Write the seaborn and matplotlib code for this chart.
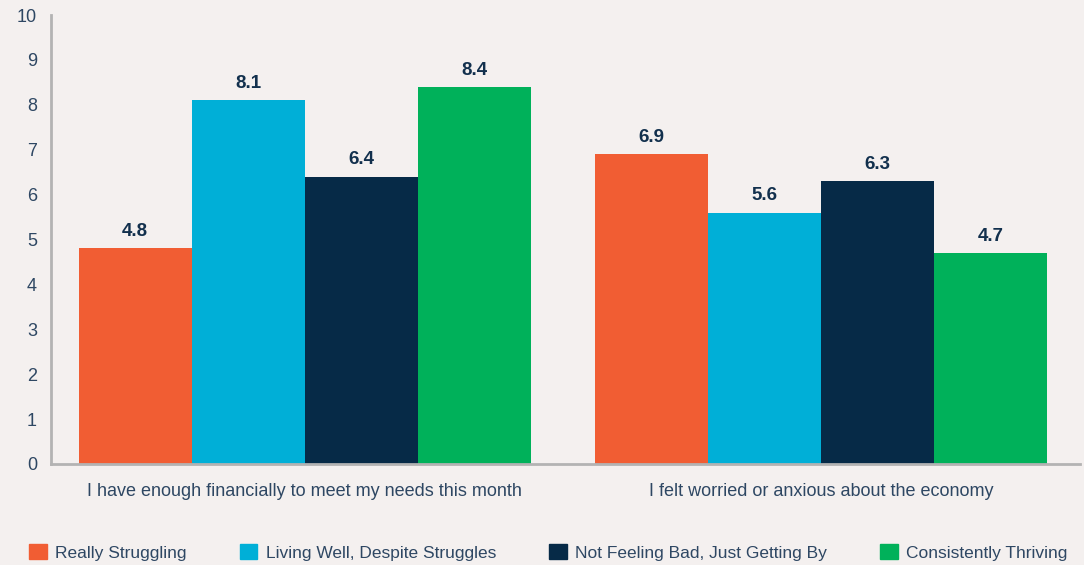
import numpy as np
import pandas as pd
import seaborn as sns
import matplotlib.pyplot as plt

statements = ["I have enough financially to meet my needs this month",
              "I felt worried or anxious about the economy"]
groups = ["Really Struggling", "Living Well, Despite Struggles",
          "Not Feeling Bad, Just Getting By", "Consistently Thriving"]
scores_struggling = [4.8, 6.9]
scores_living_well = [8.1, 5.6]
scores_getting_by = [6.4, 6.3]
scores_thriving = [8.4, 4.7]
colors = ["#f15d33", "#00afd7", "#062a47", "#00b15a"]

bg = "#f4f0ef"
txt = "#2e4763"

rows = []
for g, vals in zip(groups, [scores_struggling, scores_living_well, scores_getting_by, scores_thriving]):
    for s, v in zip(statements, vals):
        rows.append({"statement": s, "group": g, "score": v})
df = pd.DataFrame(rows)

sns.set_style("white")
plt.rcParams['font.family'] = ['Liberation Sans', 'DejaVu Sans']

fig = plt.figure(figsize=(10.84, 5.65), dpi=100, facecolor=bg)
ax = fig.add_axes([51/1084, 1-464/565, 1029/1084, 449/565])
ax.set_facecolor(bg)

sns.barplot(data=df, x="statement", y="score", hue="group", hue_order=groups,
            order=statements, palette=colors, width=0.875, gap=0, saturation=1,
            legend=False, ax=ax, edgecolor="none", linewidth=0)

for cont in ax.containers:
    ax.bar_label(cont, fmt="%.1f", padding=6, fontsize=13.5, fontweight="bold", color="#12304d")

ax.set_ylim(0, 10)
ax.set_xlim(-0.491, 1.501)
ax.set_yticks(range(0, 11))
ax.set_xlabel("")
ax.set_ylabel("")
ax.tick_params(axis="y", labelsize=13, colors=txt, length=0, pad=10)
ax.tick_params(axis="x", labelsize=13, colors=txt, length=0, pad=14)
for side in ["top", "right"]:
    ax.spines[side].set_visible(False)
for side in ["left", "bottom"]:
    ax.spines[side].set_color("#b3b3b3")
    ax.spines[side].set_linewidth(2)

handles = [plt.Rectangle((0, 0), 1, 1, color=c) for c in colors]
fig.legend(handles, groups, loc="lower center", ncol=4, frameon=False,
           bbox_to_anchor=(0.506, -0.02), fontsize=12.5, handlelength=1.0, handleheight=1.0,
           handletextpad=0.5, columnspacing=3.05, labelcolor=txt)

fig.savefig("out.png", dpi=100, facecolor=bg)
